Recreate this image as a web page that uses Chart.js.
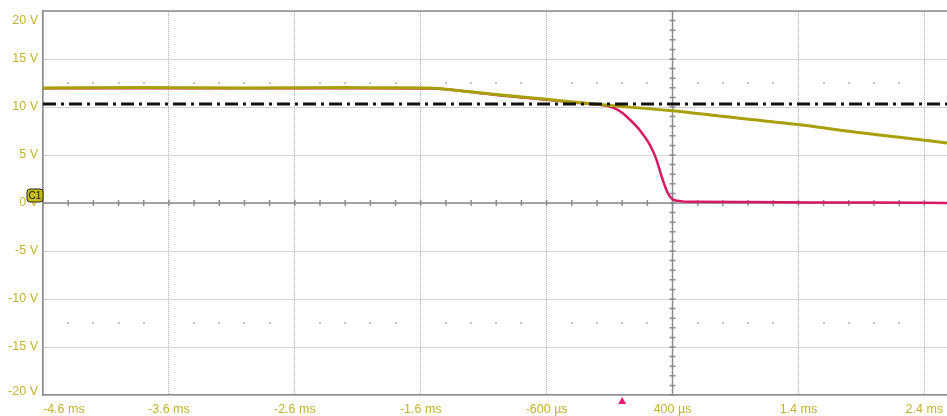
<!DOCTYPE html>
<html>
<head>
<meta charset="utf-8">
<script src="https://cdn.jsdelivr.net/npm/chart.js@4.4.0/dist/chart.umd.min.js"></script>
<style>
    html, body { margin: 0; padding: 0; background: #ffffff; }
    #wrap { width: 947px; height: 416px; }
</style>
</head>
<body>
<div id="wrap"><canvas id="scope" width="947" height="416"></canvas></div>
<script>
// Axis range and tick labels (time in ms, voltage in V)
const xMin = -4.6;
const xMax = 2.58;
const xTicks = [-4.6, -3.6, -2.6, -1.6, -0.6, 0.4, 1.4, 2.4];
const xTickLabels = ['-4.6 ms', '-3.6 ms', '-2.6 ms', '-1.6 ms', '-600 µs', '400 µs', '1.4 ms', '2.4 ms'];
const yTicks = [20, 15, 10, 5, 0, -5, -10, -15, -20];
const yTickLabels = ['20 V', '15 V', '10 V', '5 V', '0 V', '-5 V', '-10 V', '-15 V', '-20 V'];

// Yellow trace
const yellowT = [-4.6, -3.8, -3.0, -2.2, -1.8, -1.53, -1.3, -1.0, -0.64, -0.18, 0.4, 0.77, 1.41, 1.78, 2.2, 2.58];
const yellowV = [11.98, 12.03, 11.98, 12.02, 12.0, 11.98, 11.72, 11.3, 10.85, 10.25, 9.6, 9.06, 8.15, 7.5, 6.85, 6.25];

// Pink trace
const pinkT = [-4.6, -3.0, -2.0, -1.53, -1.0, -0.64, -0.3, -0.10, -0.05, 0.0, 0.06, 0.12, 0.16, 0.20, 0.23, 0.27, 0.32, 0.36, 0.40, 0.45, 0.55, 1.0, 1.5, 2.0, 2.58];
const pinkV = [11.95, 11.95, 11.95, 11.93, 11.25, 10.8, 10.38, 10.05, 9.8, 9.4, 8.7, 7.9, 7.25, 6.5, 5.8, 4.6, 2.5, 1.1, 0.4, 0.22, 0.12, 0.1, 0.06, 0.05, 0.0];

// Trigger level and trigger time
const levelV = 10.3;
const triggerT = 0;
// Faint graticule dot rows
const dotRowsV = [12.5, -12.5];
const centerT = 0.4;

const labelColor = '#c4b22a';
const frameColor = '#8c8c8c';
const labelFont = '12.5px "Liberation Sans", Arial, sans-serif';

function pontos(ts, vs) {
    return ts.map((t, i) => ({ x: t, y: vs[i] }));
}

// Grid, axes and labels drawn on top of the Chart.js scales
const scopeDecor = {
    id: 'scopeDecor',
    beforeDatasetsDraw(chart) {
        const { ctx, chartArea: a, scales: { x, y } } = chart;
        ctx.save();

        // dots between grid lines
        ctx.fillStyle = '#c4c4c4';
        dotRowsV.forEach(v => {
            const py = Math.round(y.getPixelForValue(v));
            for (let k = 1; k < 36; k++) {
                if (k % 5 === 0) continue;
                const px = Math.round(x.getPixelForValue(xMin + k * 0.2));
                ctx.fillRect(px - 1, py - 1, 2, 2);
            }
        });

        ctx.strokeStyle = frameColor;
        ctx.lineWidth = 1.5;

        // top frame
        ctx.beginPath();
        ctx.moveTo(a.left, a.top);
        ctx.lineTo(a.right, a.top);
        ctx.stroke();

        // horizontal axis at 0 V
        const y0 = y.getPixelForValue(0);
        ctx.beginPath();
        ctx.moveTo(a.left, y0);
        ctx.lineTo(a.right, y0);
        for (let k = 0; k < 36; k++) {
            const px = x.getPixelForValue(xMin + k * 0.2);
            ctx.moveTo(px, y0 - 3);
            ctx.lineTo(px, y0 + 3);
        }
        ctx.stroke();

        // vertical axis at screen centre
        const xc = x.getPixelForValue(centerT);
        ctx.beginPath();
        ctx.moveTo(xc, a.top);
        ctx.lineTo(xc, a.bottom);
        for (let v = -20; v <= 20; v++) {
            const py = y.getPixelForValue(v);
            ctx.moveTo(xc - 3, py);
            ctx.lineTo(xc + 3, py);
        }
        ctx.stroke();
        ctx.restore();
    },
    afterDraw(chart) {
        const { ctx, chartArea: a, scales: { x, y } } = chart;
        ctx.save();
        ctx.font = labelFont;
        ctx.fillStyle = labelColor;

        // y labels
        ctx.textAlign = 'right';
        ctx.textBaseline = 'middle';
        yTicks.forEach((v, i) => {
            let py = y.getPixelForValue(v);
            if (i === 0) py = a.top + 10;
            if (i === yTicks.length - 1) py = a.bottom - 3;
            ctx.fillText(yTickLabels[i], a.left - 5, py);
        });

        // x labels
        xTicks.forEach((t, i) => {
            const px = x.getPixelForValue(t);
            ctx.textAlign = i === 0 ? 'left' : 'center';
            ctx.fillText(xTickLabels[i], px, a.bottom + 15);
        });

        // channel marker C1
        const y0 = y.getPixelForValue(0);
        ctx.beginPath();
        ctx.roundRect(a.left - 16, y0 - 14, 16, 13, 3);
        ctx.fillStyle = '#c6c000';
        ctx.fill();
        ctx.strokeStyle = '#222222';
        ctx.lineWidth = 1;
        ctx.stroke();
        ctx.fillStyle = '#1a1a1a';
        ctx.font = '10px "Liberation Sans", Arial, sans-serif';
        ctx.textAlign = 'center';
        ctx.fillText('C1', a.left - 8, y0 - 7);

        // trigger marker
        const xt = x.getPixelForValue(triggerT);
        ctx.beginPath();
        ctx.moveTo(xt, a.bottom + 2);
        ctx.lineTo(xt - 4, a.bottom + 9);
        ctx.lineTo(xt + 4, a.bottom + 9);
        ctx.closePath();
        ctx.fillStyle = '#ec1a7a';
        ctx.fill();
        ctx.restore();
    }
};

new Chart(document.getElementById('scope'), {
    type: 'line',
    data: {
        datasets: [
            {
                label: 'Trigger level',
                data: [{ x: xMin, y: levelV }, { x: xMax, y: levelV }],
                borderColor: '#111111',
                borderWidth: 3,
                borderDash: [13, 5, 3, 5]
            },
            {
                label: 'C1',
                data: pontos(yellowT, yellowV),
                borderColor: '#a8a00a',
                borderWidth: 3,
                cubicInterpolationMode: 'monotone'
            },
            {
                label: 'C2',
                data: pontos(pinkT, pinkV),
                borderColor: '#d81862',
                borderWidth: 2.5,
                cubicInterpolationMode: 'monotone'
            }
        ]
    },
    options: {
        responsive: false,
        animation: false,
        devicePixelRatio: 1,
        layout: { padding: { left: 43, top: 11, right: 0, bottom: 21 } },
        elements: { point: { radius: 0 } },
        plugins: { legend: { display: false }, tooltip: { enabled: false } },
        scales: {
            x: {
                type: 'linear',
                min: xMin,
                max: xMax,
                afterBuildTicks: scale => { scale.ticks = xTicks.map(v => ({ value: v })); },
                ticks: { display: false },
                grid: { color: '#a8a8a8', drawTicks: false },
                border: { color: frameColor, width: 1.5, dash: [1, 1] }
            },
            y: {
                min: -20,
                max: 20,
                ticks: { display: false, stepSize: 5 },
                grid: { color: '#a8a8a8', drawTicks: false },
                border: { color: frameColor, width: 1.5, dash: [1, 1] }
            }
        }
    },
    plugins: [scopeDecor]
});
</script>
</body>
</html>
